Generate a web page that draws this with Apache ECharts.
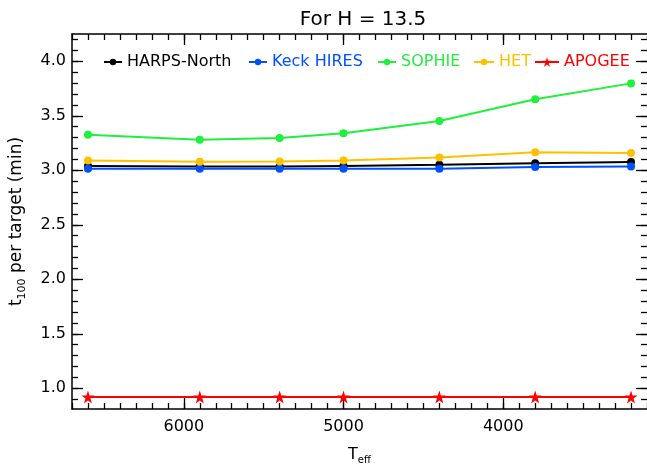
<!DOCTYPE html>
<html>
<head>
<meta charset="utf-8">
<script src="https://cdn.jsdelivr.net/npm/echarts@6/dist/echarts.min.js"></script>
<style>html,body{margin:0;padding:0;background:#fff;}#c{width:647px;height:470px;}</style>
</head>
<body>
<div id="c"></div>
<script>
// ---- data ----
var teff = [6600, 5900, 5400, 5000, 4400, 3800, 3200];
var harpsNorth = [3.04, 3.035, 3.035, 3.04, 3.05, 3.065, 3.075];
var keckHires = [3.015, 3.015, 3.015, 3.015, 3.015, 3.03, 3.035];
var sophie = [3.325, 3.28, 3.297, 3.34, 3.452, 3.652, 3.797];
var het = [3.09, 3.078, 3.08, 3.089, 3.117, 3.165, 3.159];
var apogee = [0.92, 0.92, 0.92, 0.92, 0.92, 0.92, 0.92];
var seriesNames = ['HARPS-North', 'Keck HIRES', 'SOPHIE', 'HET', 'APOGEE'];
var xTickLabels = [6000, 5000, 4000];
var yTickLabels = [1.0, 1.5, 2.0, 2.5, 3.0, 3.5, 4.0];

// ---- styling / layout ----
var FONT = 'DejaVu Sans';
var colors = ['#000000', '#0050ff', '#1ef03c', '#ffc000', '#ff0000'];
var xMin = 3100, xMax = 6700, yMin = 0.81, yMax = 4.25;
var STAR = 'path://M50,0 L61.2,34.5 L97.6,34.5 L68.2,55.9 L79.4,90.5 L50,69.1 L20.6,90.5 L31.8,55.9 L2.4,34.5 L38.8,34.5 Z';

var xMinor = [];
for (var v = 3100; v <= 6700; v += 100) xMinor.push(v);
var yMinor = [];
for (var k = 9; k <= 42; k++) yMinor.push(k / 10);

function pairs(ys) { return teff.map(function (t, i) { return [t, ys[i]]; }); }
var seriesData = [harpsNorth, keckHires, sophie, het, apogee];

var series = seriesData.map(function (d, i) {
  return {
    name: seriesNames[i],
    type: 'line',
    data: pairs(d),
    xAxisIndex: 0,
    yAxisIndex: 0,
    symbol: i === 4 ? STAR : 'circle',
    symbolSize: i === 4 ? 13 : 8,
    lineStyle: { color: colors[i], width: 2 },
    itemStyle: { color: colors[i] },
    z: 3 + i
  };
});

function axisCommon(extra) {
  return Object.assign({
    type: 'value',
    splitLine: { show: false },
    axisLine: { show: true, onZero: false, lineStyle: { color: '#000', width: 1.5 } }
  }, extra);
}
var tickStyle = { color: '#000', width: 1.3 };

var xAxes = [
  axisCommon({ position: 'bottom', min: xMin, max: xMax, inverse: true,
    name: '{t|T}{s|eff}', nameLocation: 'middle', nameGap: 36,
    nameTextStyle: { rich: { t: { fontFamily: FONT, fontSize: 16, color: '#000' }, s: { fontFamily: FONT, fontSize: 10, color: '#000', verticalAlign: 'bottom', padding: [10, 0, 0, 0] } } },
    axisTick: { show: true, inside: true, length: 11, customValues: xTickLabels, lineStyle: tickStyle },
    axisLabel: { show: true, customValues: xTickLabels, margin: 10, fontFamily: FONT, fontSize: 16, color: '#000',
      formatter: function (v) { return String(v); } } }),
  axisCommon({ position: 'bottom', min: xMin, max: xMax, inverse: true,
    axisLine: { show: false, onZero: false },
    axisTick: { show: true, inside: true, length: 6, customValues: xMinor, lineStyle: tickStyle },
    axisLabel: { show: false } }),
  axisCommon({ position: 'top', min: xMin, max: xMax, inverse: true,
    axisTick: { show: true, inside: true, length: 11, customValues: xTickLabels, lineStyle: tickStyle },
    axisLabel: { show: false } }),
  axisCommon({ position: 'top', min: xMin, max: xMax, inverse: true,
    axisLine: { show: false, onZero: false },
    axisTick: { show: true, inside: true, length: 6, customValues: xMinor, lineStyle: tickStyle },
    axisLabel: { show: false } })
];

var yAxes = [
  axisCommon({ position: 'left', min: yMin, max: yMax,
    name: '{t|t}{s|100}{t| per target (min)}', nameLocation: 'middle', nameGap: 44, nameRotate: 90,
    nameTextStyle: { rich: { t: { fontFamily: FONT, fontSize: 17, color: '#000' }, s: { fontFamily: FONT, fontSize: 11, color: '#000', verticalAlign: 'bottom', padding: [12, 0, 0, 0] } } },
    axisTick: { show: true, inside: true, length: 11, customValues: yTickLabels, lineStyle: tickStyle },
    axisLabel: { show: true, customValues: yTickLabels, margin: 6, fontFamily: FONT, fontSize: 16, color: '#000',
      formatter: function (v) { return Number(v).toFixed(1); } } }),
  axisCommon({ position: 'left', min: yMin, max: yMax,
    axisLine: { show: false, onZero: false },
    axisTick: { show: true, inside: true, length: 6, customValues: yMinor, lineStyle: tickStyle },
    axisLabel: { show: false } }),
  axisCommon({ position: 'right', min: yMin, max: yMax,
    axisLine: { show: false, onZero: false },
    axisTick: { show: true, inside: true, length: 11, customValues: yTickLabels, lineStyle: tickStyle },
    axisLabel: { show: false } }),
  axisCommon({ position: 'right', min: yMin, max: yMax,
    axisLine: { show: false, onZero: false },
    axisTick: { show: true, inside: true, length: 6, customValues: yMinor, lineStyle: tickStyle },
    axisLabel: { show: false } })
];

var legendLefts = [98, 243, 372, 468, 529];
var legendWidths = [18, 18, 18, 20, 24];
var legends = seriesNames.map(function (n, i) {
  return {
    data: [n],
    left: legendLefts[i],
    top: 49,
    orient: 'horizontal',
    selectedMode: false,
    itemWidth: legendWidths[i],
    itemHeight: i === 4 ? 12 : 8,
    itemGap: 0,
    textStyle: { color: colors[i], fontFamily: FONT, fontSize: 16 }
  };
});

var chart = echarts.init(document.getElementById('c'), null, { renderer: 'canvas' });
chart.setOption({
  animation: false,
  backgroundColor: '#ffffff',
  title: {
    text: 'For H = 13.5',
    left: 358, textAlign: 'center', top: 5,
    textStyle: { fontFamily: FONT, fontSize: 20, fontWeight: 'normal', color: '#000' }
  },
  grid: { left: 69, top: 34, width: 580, height: 384, containLabel: false },
  legend: legends,
  xAxis: xAxes,
  yAxis: yAxes,
  series: series
});
</script>
</body>
</html>
